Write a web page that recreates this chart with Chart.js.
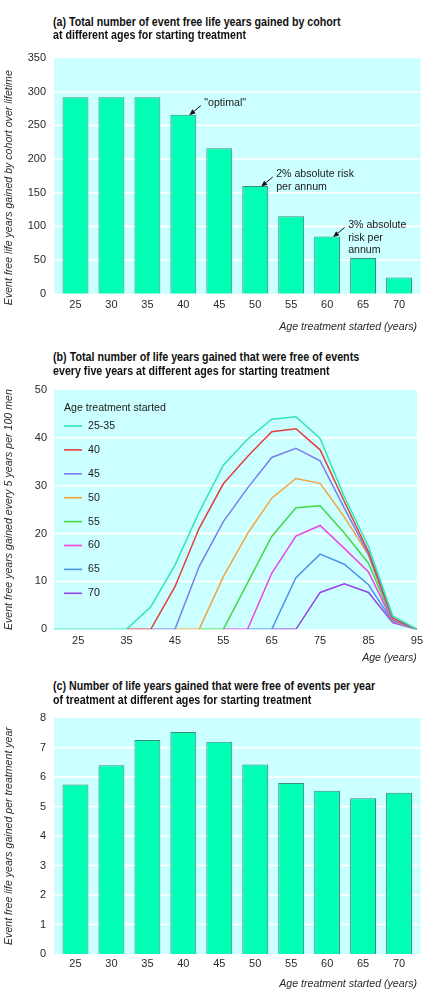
<!DOCTYPE html>
<html><head><meta charset="utf-8">
<script src="https://cdn.jsdelivr.net/npm/chart.js@4.4.1/dist/chart.umd.min.js"></script>
<style>
html,body{margin:0;padding:0;background:#fff;}
body{width:428px;height:990px;position:relative;overflow:hidden;font-family:'Liberation Sans',Arial,sans-serif;}
.box{position:absolute;left:0;width:428px;}
.t{position:absolute;left:53px;font-weight:bold;font-size:12px;line-height:13px;height:13px;white-space:nowrap;transform-origin:0 50%;color:#111;z-index:5;}
</style></head><body>
<div class="box" style="top:40px;height:293px"><canvas id="ca"></canvas></div>
<div class="box" style="top:375px;height:289px"><canvas id="cb"></canvas></div>
<div class="box" style="top:700px;height:290px"><canvas id="cc"></canvas></div>
<div class="t" data-w="287.4" style="top:16px">(a) Total number of event free life years gained by cohort</div>
<div class="t" data-w="192.7" style="top:29px">at different ages for starting treatment</div>
<div class="t" data-w="306" style="top:350.5px">(b) Total number of life years gained that were free of events</div>
<div class="t" data-w="276.7" style="top:365px">every five years at different ages for starting treatment</div>
<div class="t" data-w="322.3" style="top:679.5px">(c) Number of life years gained that were free of events per year</div>
<div class="t" data-w="258.3" style="top:693.5px">of treatment at different ages for starting treatment</div>
<script>
// ---- data ----
const startAges = ['25','30','35','40','45','50','55','60','65','70'];
const totalGained = [292,292,292,266,216,160,115,85,53,24];
const perYearGained = [5.75,6.4,7.26,7.53,7.2,6.43,5.8,5.54,5.28,5.47];
const ageAxis = [20,25,30,35,40,45,50,55,60,65,70,75,80,85,90,95];
const ageTicks = [25,35,45,55,65,75,85,95];
const seriesLabels = ['25-35','40','45','50','55','60','65','70'];
const s25_35 = [0,0,0,0,4.7,13.4,24.5,34.3,39.7,43.9,44.4,39.9,27.7,17.3,2.8,0];
const s40 = [null,null,null,0,0,8.9,21.1,30.4,36.1,41.3,41.9,37.5,26.7,16.2,2.3,0];
const s45 = [null,null,null,null,0,0,13.1,22.5,29.5,35.9,37.8,35.2,25.3,15.7,1.9,0];
const s50 = [null,null,null,null,null,0,0,11.0,20.0,27.4,31.5,30.5,23.5,15.5,1.8,0];
const s55 = [null,null,null,null,null,null,0,0,9.7,19.4,25.4,25.8,20.1,13.8,1.8,0];
const s60 = [null,null,null,null,null,null,null,0,0,11.7,19.5,21.7,16.9,12.0,1.6,0];
const s65 = [null,null,null,null,null,null,null,null,0,0,10.8,15.7,13.6,9.3,1.6,0];
const s70 = [null,null,null,null,null,null,null,null,null,0,0,7.7,9.5,7.7,1.4,0];
const seriesColors = ['#2ee6b4','#e0403c','#7c7cec','#f4a23c','#44d844','#f044e0','#4c92ea','#9444e0'];
const annotations = [
  {index:3, lines:['"optimal"']},
  {index:5, lines:['2% absolute risk','per annum']},
  {index:7, lines:['3% absolute','risk per','annum']}
];

// title fitting
document.querySelectorAll('.t').forEach(el=>{
  const w = el.offsetWidth, target = parseFloat(el.dataset.w);
  el.style.transform = 'scaleX(' + (target / w) + ')';
});

const FONT = "'Liberation Sans', Arial, Helvetica, sans-serif";
Chart.defaults.font.family = FONT;
Chart.defaults.font.size = 11;
Chart.defaults.color = '#2a2a2a';
Chart.defaults.animation = false;
Chart.defaults.responsive = true;
Chart.defaults.maintainAspectRatio = false;

const bgPlugin = {
  id: 'bg',
  beforeDatasetsDraw(chart, args, opts) {
    const {ctx, chartArea: a, scales: {y}} = chart;
    const eL = opts.extL || 0, eR = opts.extR || 0;
    ctx.save();
    ctx.fillStyle = '#ccffff';
    ctx.fillRect(a.left - eL, a.top, a.right - a.left + eL + eR, a.bottom - a.top);
    ctx.strokeStyle = '#ffffff';
    ctx.lineWidth = 1.6;
    y.ticks.forEach(t => {
      if (t.value <= y.min || t.value >= y.max) return;
      const py = y.getPixelForValue(t.value);
      ctx.beginPath();
      ctx.moveTo(a.left - eL, py);
      ctx.lineTo(a.right + eR, py);
      ctx.stroke();
    });
    ctx.restore();
  }
};

function fixW(w){ return function(s){ s.width = w; }; }
function fixH(h){ return function(s){ s.height = h; }; }

function barOptions(yMax, yStep, yTitle, yW, xH, tickPad, padTop) {
  return {
    layout: {padding: {top: padTop, right: 11, left: 0, bottom: 0}},
    plugins: {legend: {display: false}, tooltip: {enabled: false}, bg: {extL: 3.5, extR: 3.5}},
    scales: {
      x: {
        grid: {display: false, drawTicks: false},
        border: {display: false},
        ticks: {padding: tickPad, color: '#2a2a2a', font: {size: 11}},
        title: {display: true, text: 'Age treatment started (years)', align: 'end', padding: 0,
                font: {size: 10.6, style: 'italic'}, color: '#2a2a2a'},
        afterFit: fixH(xH)
      },
      y: {
        min: 0, max: yMax,
        grid: {display: false, drawTicks: false},
        border: {display: false},
        ticks: {stepSize: yStep, padding: 11.5, color: '#2a2a2a', font: {size: 11}},
        title: {display: true, text: yTitle, padding: {top: 3, bottom: 0},
                font: {size: 10.6, style: 'italic'}, color: '#2a2a2a'},
        afterFit: fixW(yW)
      }
    }
  };
}

const annPlugin = {
  id: 'ann',
  afterDatasetsDraw(chart) {
    const {ctx} = chart;
    const meta = chart.getDatasetMeta(0);
    ctx.save();
    ctx.font = "10.6px " + FONT;
    ctx.fillStyle = '#1a1a1a';
    ctx.strokeStyle = '#111';
    ctx.textBaseline = 'middle';
    ctx.textAlign = 'left';
    annotations.forEach(an => {
      const bar = meta.data[an.index];
      const tx = bar.x + 6, ty = bar.y + 0.5;
      const sx = tx + 11.5, sy = ty - 9.5;
      const ang = Math.atan2(ty - sy, tx - sx);
      const hl = 6, hw = 2.6;
      const bx = tx - hl * Math.cos(ang), by = ty - hl * Math.sin(ang);
      ctx.lineWidth = 1;
      ctx.beginPath(); ctx.moveTo(sx, sy); ctx.lineTo(bx, by); ctx.stroke();
      ctx.beginPath();
      ctx.moveTo(tx, ty);
      ctx.lineTo(bx + hw * Math.sin(ang), by - hw * Math.cos(ang));
      ctx.lineTo(bx - hw * Math.sin(ang), by + hw * Math.cos(ang));
      ctx.closePath(); ctx.fillStyle = '#111'; ctx.fill();
      ctx.fillStyle = '#1a1a1a';
      an.lines.forEach((ln, k) => ctx.fillText(ln, tx + 15, ty - 12 + k * 12.7));
    });
    ctx.restore();
  }
};

const barStyle = {backgroundColor: '#00ffb4', borderColor: '#3a8c7c', borderWidth: 1, barPercentage: 0.72, categoryPercentage: 1};

new Chart(document.getElementById('ca'), {
  type: 'bar',
  data: {labels: startAges, datasets: [Object.assign({data: totalGained}, barStyle)]},
  options: barOptions(350, 50, 'Event free life years gained by cohort over lifetime        ', 57.5, 39.3, 5, 13),
  plugins: [bgPlugin, annPlugin]
});

new Chart(document.getElementById('cc'), {
  type: 'bar',
  data: {labels: startAges, datasets: [Object.assign({data: perYearGained}, barStyle)]},
  options: barOptions(8, 1, 'Event free life years gained per treatment year', 57.5, 36, 3, 13),
  plugins: [bgPlugin]
});

const lineSeries = [s25_35, s40, s45, s50, s55, s60, s65, s70];
const legendPlugin = {
  id: 'lg',
  afterDatasetsDraw(chart) {
    const {ctx, chartArea: a} = chart;
    ctx.save();
    ctx.font = "10.6px " + FONT;
    ctx.fillStyle = '#1a1a1a';
    ctx.textBaseline = 'middle';
    ctx.textAlign = 'left';
    const x0 = a.left + 10, y0 = a.top + 18;
    ctx.fillText('Age treatment started', x0, y0);
    chart.data.datasets.forEach((ds, i) => {
      const yy = y0 + 18 + i * 23.9;
      ctx.strokeStyle = ds.borderColor; ctx.lineWidth = 1.6;
      ctx.beginPath(); ctx.moveTo(x0, yy); ctx.lineTo(x0 + 18, yy); ctx.stroke();
      ctx.fillText(ds.label, x0 + 24, yy);
    });
    ctx.restore();
  }
};

new Chart(document.getElementById('cb'), {
  type: 'line',
  data: {
    datasets: lineSeries.map((s, i) => ({
      label: seriesLabels[i],
      data: ageAxis.map((a, j) => ({x: a, y: s[j]})).filter(p => p.y !== null),
      borderColor: seriesColors[i],
      backgroundColor: seriesColors[i],
      borderWidth: 1.5,
      pointRadius: 0,
      tension: 0,
      fill: false
    }))
  },
  options: {
    layout: {padding: {top: 15, right: 7, left: 0, bottom: 0}},
    plugins: {legend: {display: false}, tooltip: {enabled: false}, bg: {extL: 0, extR: 0}},
    scales: {
      x: {
        type: 'linear', min: 20, max: 95,
        afterBuildTicks: s => { s.ticks = ageTicks.map(v => ({value: v})); },
        grid: {display: false, drawTicks: false},
        border: {display: false},
        ticks: {padding: 5, color: '#2a2a2a', font: {size: 11}},
        title: {display: true, text: 'Age (years)', align: 'end', padding: 0,
                font: {size: 10.6, style: 'italic'}, color: '#2a2a2a'},
        afterFit: fixH(34.7)
      },
      y: {
        min: 0, max: 50,
        grid: {display: false, drawTicks: false},
        border: {display: false},
        ticks: {stepSize: 10, padding: 7, color: '#2a2a2a', font: {size: 11}},
        title: {display: true, text: 'Event free years gained every 5 years per 100 men', padding: {top: 3, bottom: 0},
                font: {size: 10.6, style: 'italic'}, color: '#2a2a2a'},
        afterFit: fixW(54)
      }
    }
  },
  plugins: [bgPlugin, legendPlugin]
});
</script>
</body></html>
